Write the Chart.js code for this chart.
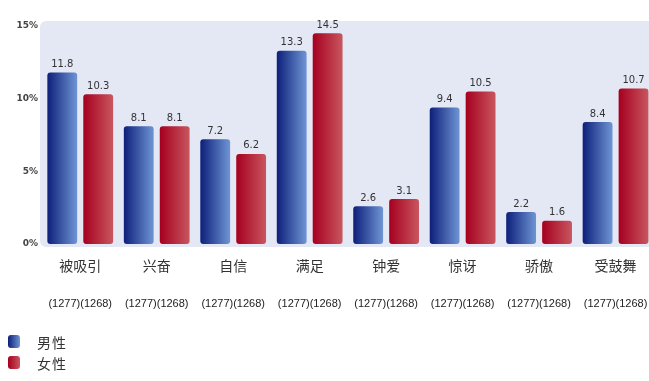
<!DOCTYPE html>
<html>
<head>
<meta charset="utf-8">
<script src="https://cdn.jsdelivr.net/npm/chart.js@4/dist/chart.umd.min.js"></script>
<style>
  html, body { margin: 0; padding: 0; background: #fff; overflow: hidden; }
  #wrap { position: relative; width: 649px; height: 381px; overflow: hidden; }
  #chart { position: absolute; left: 0; top: 0; }
  #legend { position: absolute; left: 8px; top: 331px; font-family: "Noto Sans CJK SC", sans-serif; font-size: 14px; color: #333; letter-spacing: 1px; }
  #legend div { height: 21px; display: flex; align-items: center; }
  #legend span.box { display: inline-block; width: 12px; height: 13px; border-radius: 3px; margin-right: 17px; }
</style>
</head>
<body>
<div id="wrap">
  <canvas id="chart" width="664" height="381"></canvas>
  <div id="legend"></div>
</div>
<script>
// 情绪类别与样本量
const categories = ['被吸引', '兴奋', '自信', '满足', '钟爱', '惊讶', '骄傲', '受鼓舞'];
const sampleLabels = ['(1277)(1268)', '(1277)(1268)', '(1277)(1268)', '(1277)(1268)',
  '(1277)(1268)', '(1277)(1268)', '(1277)(1268)', '(1277)(1268)'];
const maleValues = [11.8, 8.1, 7.2, 13.3, 2.6, 9.4, 2.2, 8.4];
const femaleValues = [10.3, 8.1, 6.2, 14.5, 3.1, 10.5, 1.6, 10.7];
const yTicks = [0, 5, 10, 15];
const seriesNames = ['男性', '女性'];

const gradients = {
  male: ['#0d1f7a', '#6f95d4'],
  female: ['#a5001f', '#c9565f']
};

// 背景面板
const panelPlugin = {
  id: 'panel',
  beforeDraw(chart) {
    const { ctx, chartArea } = chart;
    ctx.save();
    ctx.fillStyle = '#e4e8f5';
    ctx.beginPath();
    ctx.roundRect(chartArea.left - 2, chartArea.top - 5, chartArea.right - chartArea.left + 10, chartArea.bottom - chartArea.top + 8, 6);
    ctx.fill();
    ctx.restore();
  }
};

// 柱子渐变
const gradientPlugin = {
  id: 'barGradient',
  beforeDatasetDraw(chart, args) {
    const key = args.index === 0 ? 'male' : 'female';
    args.meta.data.forEach(bar => {
      const { x, width } = bar.getProps(['x', 'width'], true);
      const g = chart.ctx.createLinearGradient(x - width / 2, 0, x + width / 2, 0);
      g.addColorStop(0, gradients[key][0]);
      g.addColorStop(1, gradients[key][1]);
      bar.options.backgroundColor = g;
    });
  }
};

// 数值标签
const valueLabelPlugin = {
  id: 'valueLabels',
  afterDatasetsDraw(chart) {
    const { ctx } = chart;
    ctx.save();
    ctx.font = '10px "DejaVu Sans", sans-serif';
    ctx.fillStyle = '#333';
    ctx.textAlign = 'center';
    ctx.textBaseline = 'bottom';
    chart.data.datasets.forEach((ds, i) => {
      chart.getDatasetMeta(i).data.forEach((bar, j) => {
        ctx.fillText(ds.data[j].toFixed(1), bar.x, bar.y - 3);
      });
    });
    ctx.restore();
  }
};

const chart = new Chart(document.getElementById('chart'), {
  type: 'bar',
  data: {
    labels: categories,
    datasets: [
      { label: seriesNames[0], data: maleValues, backgroundColor: () => gradients.male[1] },
      { label: seriesNames[1], data: femaleValues, backgroundColor: () => gradients.female[1] }
    ]
  },
  options: {
    responsive: false,
    animation: false,
    layout: { padding: { top: 26, right: 0, bottom: 61, left: 0 } },
    datasets: {
      bar: {
        categoryPercentage: 0.94,
        barPercentage: 0.83,
        borderRadius: 3,
        borderSkipped: false
      }
    },
    plugins: {
      legend: { display: false },
      tooltip: { enabled: false }
    },
    scales: {
      x: {
        weight: 0,
        grid: { display: false, drawTicks: false },
        border: { display: false },
        ticks: {
          padding: 13,
          color: '#333',
          font: { family: '"Noto Sans CJK SC", sans-serif', size: 14 }
        },
        afterFit(scale) { scale.height = 37; }
      },
      x2: {
        type: 'category',
        labels: sampleLabels,
        position: 'bottom',
        offset: true,
        weight: 1,
        grid: { display: false, drawTicks: false },
        border: { display: false },
        ticks: {
          padding: 16,
          color: '#222',
          font: { family: '"Liberation Sans", Arial, sans-serif', size: 11 }
        },
        afterFit(scale) { scale.height = 39; }
      },
      y: {
        min: 0,
        max: 15,
        afterBuildTicks(scale) { scale.ticks = yTicks.map(v => ({ value: v })); },
        grid: { display: false, drawTicks: false },
        border: { display: false },
        ticks: {
          padding: 4,
          color: '#444',
          font: { family: '"DejaVu Sans", sans-serif', size: 9, weight: 'bold' },
          callback: v => v + '%'
        },
        afterFit(scale) { scale.width = 42; }
      }
    }
  },
  plugins: [panelPlugin, gradientPlugin, valueLabelPlugin]
});

// 图例
const legendEl = document.getElementById('legend');
chart.data.datasets.forEach((ds, i) => {
  const key = i === 0 ? 'male' : 'female';
  const row = document.createElement('div');
  const box = document.createElement('span');
  box.className = 'box';
  box.style.background = 'linear-gradient(to right, ' + gradients[key][0] + ', ' + gradients[key][1] + ')';
  row.appendChild(box);
  row.appendChild(document.createTextNode(ds.label));
  legendEl.appendChild(row);
});
</script>
</body>
</html>
